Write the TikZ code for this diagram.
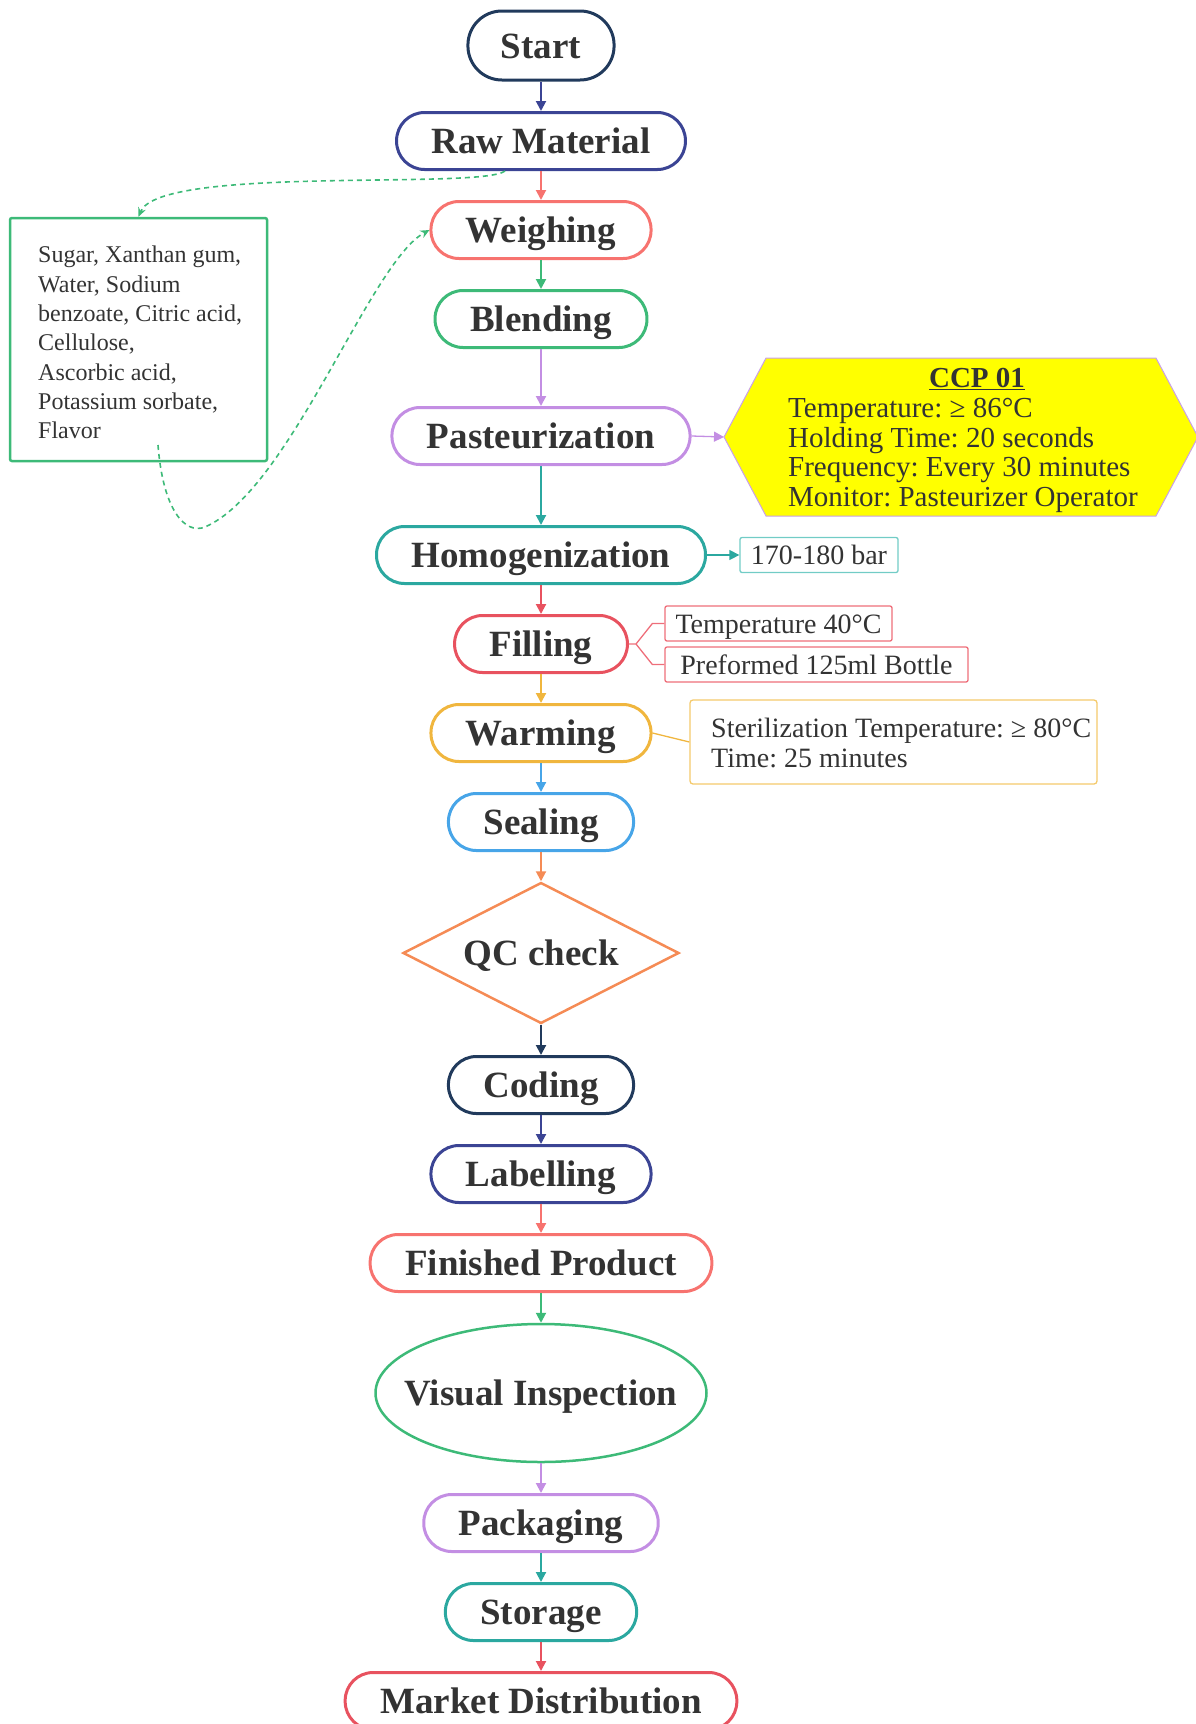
\documentclass[tikz,border=0pt]{standalone}
\usepackage{fontspec}
\setmainfont{Liberation Serif}
\usetikzlibrary{arrows.meta,shapes.geometric,calc}
\frenchspacing

% step colours
\definecolor{cNavy}{HTML}{213A5C}
\definecolor{cIndigo}{HTML}{3B4494}
\definecolor{cSalmon}{HTML}{F7736F}
\definecolor{cGreen}{HTML}{3DBA78}
\definecolor{cLav}{HTML}{C38EE3}
\definecolor{cTeal}{HTML}{2BA8A0}
\definecolor{cRed}{HTML}{E8525F}
\definecolor{cYellow}{HTML}{F0B63E}
\definecolor{cBlue}{HTML}{47A5E8}
\definecolor{cOrange}{HTML}{F58B55}
% note colours
\definecolor{nTeal}{HTML}{72CCC6}
\definecolor{nRed}{HTML}{EE6E7A}
\definecolor{nYellow}{HTML}{F4CA6C}
\definecolor{nLav}{HTML}{C9A0E8}
\definecolor{ccpFill}{HTML}{FFFF00}
\definecolor{txt}{HTML}{333333}

\begin{document}
\begin{tikzpicture}[x=1pt,y=-1pt,
  every node/.append style={text=txt},
  steptext/.style={font=\fontsize{37}{40}\selectfont\bfseries, text height=25pt, text depth=0pt},
  stepbox/.style={steptext, draw=#1, line width=3pt, rounded corners=28pt,
    minimum height=57pt, inner xsep=35pt, inner ysep=0pt},
  flow/.style={draw=#1, line width=2pt, -{Triangle[length=10pt,width=10pt]}},
  noteflow/.style={draw=#1, line width=1.3pt, -{Triangle[length=10pt,width=10pt]}},
  noteline/.style={draw=#1, line width=1.3pt},
  notebox/.style={draw=#1, line width=1.3pt, rounded corners=2pt,
    minimum height=35pt, inner xsep=10pt, inner ysep=0pt,
    font=\fontsize{28}{30}\selectfont, text height=19pt, text depth=0pt},
  dashflow/.style={draw=cGreen, line width=1.6pt, dash pattern=on 5pt off 4pt,
    -{Stealth[length=9pt,width=8pt]}},
]
\useasboundingbox (0,0) rectangle (1195,1724);

% main flow
\node[stepbox=cNavy, minimum height=69pt, rounded corners=34pt, inner xsep=33pt] (start) at (541,45.5) {Start};
\node[stepbox=cIndigo] (raw)    at (541,141)  {Raw Material};
\node[stepbox=cSalmon] (weigh)  at (541,230)  {Weighing};
\node[stepbox=cGreen]  (blend)  at (541,319)  {Blending};
\node[stepbox=cLav]    (past)   at (541,436)  {Pasteurization};
\node[stepbox=cTeal]   (homog)  at (541,555)  {Homogenization};
\node[stepbox=cRed]    (fill)   at (541,644)  {Filling};
\node[stepbox=cYellow] (warm)   at (541,733)  {Warming};
\node[stepbox=cBlue]   (seal)   at (541,822)  {Sealing};
\node[diamond, steptext, draw=cOrange, line width=2.5pt, minimum width=276pt, minimum height=141pt,
      aspect=1.96, inner sep=0pt] (qc) at (541,953) {QC check};
\node[stepbox=cNavy]   (code)   at (541,1085) {Coding};
\node[stepbox=cIndigo] (label)  at (541,1174) {Labelling};
\node[stepbox=cSalmon] (fin)    at (541,1263) {Finished Product};
\node[ellipse, steptext, draw=cGreen, line width=2.5pt, minimum width=331pt, minimum height=138pt,
      inner xsep=-45pt, inner ysep=0pt] (vis) at (541,1393) {Visual Inspection};
\node[stepbox=cLav]    (pack)   at (541,1523) {Packaging};
\node[stepbox=cTeal]   (store)  at (541,1612) {Storage};
\node[stepbox=cRed]    (market) at (541,1701) {Market Distribution};

\draw[flow=cIndigo] (start) -- (raw);
\draw[flow=cSalmon] (raw) -- (weigh);
\draw[flow=cGreen]  (weigh) -- (blend);
\draw[flow=cLav]    (blend) -- (past);
\draw[flow=cTeal]   (past) -- (homog);
\draw[flow=cRed]    (homog) -- (fill);
\draw[flow=cYellow] (fill) -- (warm);
\draw[flow=cBlue]   (warm) -- (seal);
\draw[flow=cOrange] (seal) -- (qc.north);
\draw[flow=cNavy]   (qc.south) -- (code);
\draw[flow=cIndigo] (code) -- (label);
\draw[flow=cSalmon] (label) -- (fin);
\draw[flow=cGreen]  (fin) -- (vis.north);
\draw[flow=cLav]    (vis.south) -- (pack);
\draw[flow=cTeal]   (pack) -- (store);
\draw[flow=cRed]    (store) -- (market);

% ingredients
\node[draw=cGreen, line width=2.5pt, rounded corners=2pt, minimum width=257pt,
      minimum height=243pt, inner sep=0pt] (ings) at (138.5,339.5) {};
\node[anchor=north west, align=left, inner sep=0pt, font=\fontsize{24}{29.3}\selectfont] (ingstext) at (38,246)
  {Sugar, Xanthan gum,\\Water, Sodium\\benzoate, Citric acid,\\Cellulose,\\Ascorbic acid,\\Potassium sorbate,\\Flavor};
\coordinate (rawtap) at ($(raw.south)+(-36,0)$);
\coordinate (ingtap) at (158,445);
\draw[dashflow] (rawtap) .. controls (480,190) and (160,165) .. (ings.north);
\draw[dashflow] (ingtap) .. controls (163,510) and (185,535) .. (205,527)
  .. controls (290,490) and (370,262) .. (weigh.west);

% critical control point
\coordinate (ccpin) at (724,437);
\draw[draw=nLav, line width=1pt, fill=ccpFill]
  (ccpin) -- (766,358) -- (1156,358) -- (1198,437) -- (1156,516) -- (766,516) -- cycle;
\node[font=\fontsize{29}{30}\selectfont\bfseries, inner sep=0pt] (ccptitle) at (977,379) {\underline{CCP 01}};
\node[anchor=west, align=left, inner sep=0pt, font=\fontsize{29}{29.5}\selectfont] (ccpbody) at (788,455.5)
  {Temperature: ≥ 86°C\\Holding Time: 20 seconds\\Frequency: Every 30 minutes\\Monitor: Pasteurizer Operator};
\draw[noteflow=cLav] (past.east) -- (ccpin);

% homogenization pressure
\node[notebox=nTeal, minimum width=158pt] (bar) at (819,555) {170-180 bar};
\draw[noteflow=cTeal] (homog.east) -- (bar.west);

% filling notes
\node[notebox=nRed, minimum width=227pt] (tempbox) at (778.5,623.5) {Temperature 40°C};
\node[notebox=nRed, minimum width=303pt] (bottle)  at (816.5,664.5) {Preformed 125ml Bottle};
\coordinate (fj) at (636,644);
\draw[noteline=nRed] (fill.east) -- (fj) -- ([xshift=-12pt]tempbox.west) -- (tempbox.west);
\draw[noteline=nRed] (fj) -- ([xshift=-12pt]bottle.west) -- (bottle.west);

% warming note
\node[draw=nYellow, line width=1.3pt, rounded corners=3pt, minimum width=407pt,
      minimum height=84pt, inner sep=0pt] (steri) at (893.5,742) {};
\node[anchor=west, align=left, inner sep=0pt, font=\fontsize{28}{30}\selectfont] (steritext) at (711,743)
  {Sterilization Temperature: ≥ 80°C\\Time: 25 minutes};
\draw[noteline=cYellow] (warm.east) -- (steri.west);
\end{tikzpicture}
\end{document}
